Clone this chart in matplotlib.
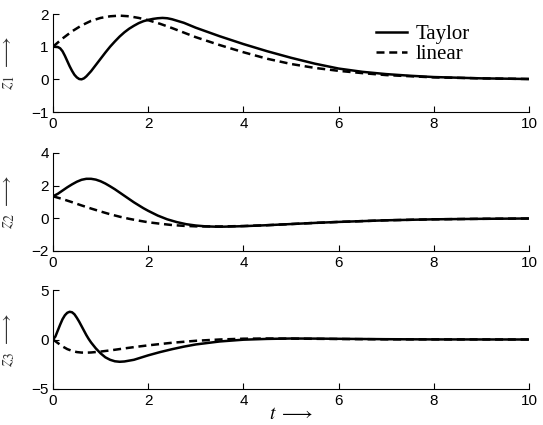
import matplotlib
matplotlib.use("Agg")
import matplotlib.pyplot as plt

# time samples and values
t1_taylor = [0, 0.1, 0.15, 0.2, 0.25, 0.3, 0.35, 0.4, 0.45, 0.5, 0.55, 0.6, 0.65, 0.7, 0.8,
             0.9, 1.0, 1.1, 1.2, 1.3, 1.4, 1.5, 1.6, 1.7, 1.8, 1.9, 2.0, 2.1, 2.2, 2.3, 2.4,
             2.5, 2.75, 3.0, 3.5, 4.0, 4.5, 5.0, 5.5, 6.0, 6.5, 7.0, 7.5, 8.0, 8.5, 9.0, 9.5, 10.0]
z1_taylor = [1.0, 0.99, 0.95, 0.86, 0.72, 0.56, 0.4, 0.26, 0.14, 0.06, 0.01, 0.0, 0.03, 0.09,
             0.25, 0.44, 0.63, 0.82, 1.0, 1.16, 1.31, 1.44, 1.55, 1.64, 1.72, 1.78, 1.82, 1.85,
             1.87, 1.88, 1.87, 1.84, 1.73, 1.58, 1.32, 1.08, 0.86, 0.66, 0.48, 0.33, 0.23,
             0.16, 0.11, 0.07, 0.05, 0.03, 0.02, 0.01]
t1_linear = [0, 0.2, 0.4, 0.6, 0.8, 1.0, 1.2, 1.4, 1.6, 1.8, 2.0, 2.25, 2.5, 2.75, 3.0, 3.5,
             4.0, 4.5, 5.0, 5.5, 6.0, 6.5, 7.0, 8.0, 9.0, 10.0]
z1_linear = [1.0, 1.25, 1.47, 1.65, 1.79, 1.88, 1.93, 1.95, 1.93, 1.88, 1.81, 1.7, 1.57, 1.43,
             1.29, 1.05, 0.83, 0.63, 0.47, 0.35, 0.26, 0.19, 0.13, 0.06, 0.03, 0.01]

t2_taylor = [0, 0.1, 0.2, 0.3, 0.4, 0.5, 0.6, 0.7, 0.8, 0.9, 1.0, 1.1, 1.2, 1.3, 1.4, 1.5,
             1.6, 1.7, 1.8, 1.9, 2.0, 2.2, 2.4, 2.6, 2.8, 3.0, 3.2, 3.4, 3.6, 4.0, 4.5, 5.0,
             5.5, 6.0, 7.0, 8.0, 9.0, 10.0]
z2_taylor = [1.35, 1.5, 1.7, 1.9, 2.08, 2.24, 2.36, 2.42, 2.42, 2.37, 2.27, 2.13, 1.96, 1.78,
             1.58, 1.38, 1.18, 0.98, 0.8, 0.62, 0.46, 0.17, -0.06, -0.23, -0.36, -0.44, -0.49,
             -0.51, -0.51, -0.48, -0.42, -0.35, -0.28, -0.22, -0.12, -0.06, -0.03, -0.01]
t2_linear = [0, 0.2, 0.4, 0.6, 0.8, 1.0, 1.2, 1.4, 1.6, 1.8, 2.0, 2.25, 2.5, 2.75, 3.0, 3.5,
             4.0, 4.5, 5.0, 5.5, 6.0, 7.0, 8.0, 9.0, 10.0]
z2_linear = [1.35, 1.18, 0.99, 0.79, 0.6, 0.42, 0.25, 0.1, -0.03, -0.14, -0.24, -0.33, -0.41,
             -0.46, -0.49, -0.5, -0.47, -0.42, -0.35, -0.28, -0.22, -0.12, -0.06, -0.03, -0.01]

t3_taylor = [0, 0.05, 0.1, 0.15, 0.2, 0.25, 0.3, 0.35, 0.4, 0.45, 0.5, 0.55, 0.6, 0.65, 0.7,
             0.75, 0.8, 0.9, 1.0, 1.1, 1.2, 1.3, 1.4, 1.5, 1.7, 2.0, 2.25, 2.5, 2.75, 3.0, 3.5,
             4.0, 4.5, 5.0, 5.5, 6.0, 7.0, 8.0, 10.0]
z3_taylor = [0.0, 0.3, 0.9, 1.5, 2.05, 2.45, 2.7, 2.8, 2.75, 2.55, 2.2, 1.8, 1.35, 0.9, 0.45,
             0.05, -0.3, -0.9, -1.4, -1.8, -2.05, -2.2, -2.25, -2.22, -2.05, -1.6, -1.27, -0.98,
             -0.72, -0.5, -0.2, -0.02, 0.06, 0.1, 0.09, 0.07, 0.03, 0.01, 0.0]
t3_linear = [0, 0.1, 0.2, 0.3, 0.4, 0.5, 0.6, 0.7, 0.8, 1.0, 1.25, 1.5, 1.75, 2.0, 2.5, 3.0,
             3.5, 4.0, 4.5, 5.0, 6.0, 7.0, 8.0, 10.0]
z3_linear = [0.0, -0.35, -0.7, -0.97, -1.15, -1.27, -1.32, -1.33, -1.31, -1.22, -1.07, -0.9,
             -0.74, -0.59, -0.33, -0.13, 0.0, 0.08, 0.1, 0.09, 0.05, 0.02, 0.01, 0.0]

series = [
    (t1_taylor, z1_taylor, t1_linear, z1_linear, (-1, 2), [-1, 0, 1, 2], r"$z_1\ \longrightarrow$"),
    (t2_taylor, z2_taylor, t2_linear, z2_linear, (-2, 4), [-2, 0, 2, 4], r"$z_2\ \longrightarrow$"),
    (t3_taylor, z3_taylor, t3_linear, z3_linear, (-5, 5), [-5, 0, 5], r"$z_3\ \longrightarrow$"),
]
x_ticks = [0, 2, 4, 6, 8, 10]

plt.rcParams["font.family"] = "Liberation Sans"
plt.rcParams["mathtext.fontset"] = "stix"

fig = plt.figure(figsize=(5.43, 4.25), dpi=100)
boxes = [(53, 14, 112), (53, 153, 251), (53, 290, 389)]
W, H = 543.0, 425.0

for (ta, za, tl, zl, ylim, yt, lab), (lx, top, bot) in zip(series, boxes):
    ax = fig.add_axes([lx / W, 1 - bot / H, 476 / W, (bot - top) / H])
    h1, = ax.plot(ta, za, color="black", lw=1.8, label="Taylor")
    h2, = ax.plot(tl, zl, color="black", lw=1.8, ls=(0, (3.2, 1.9)), label="linear")
    ax.set_xlim(0, 10)
    ax.set_ylim(*ylim)
    ax.set_xticks(x_ticks)
    ax.set_yticks(yt)
    ax.set_yticklabels([str(v).replace("-", "\u2212") for v in yt])
    ax.spines["top"].set_visible(False)
    ax.spines["right"].set_visible(False)
    ax.tick_params(direction="in", length=4, width=0.8, labelsize=11)
    ax.tick_params(axis="x", pad=3.5)
    ax.tick_params(axis="y", pad=3)
    ax.set_ylabel(lab, fontsize=14, color="#333333")
    ax.yaxis.set_label_coords(-0.075, 0.5)
    if top == 14:
        ax.legend(handles=[h1, h2], loc="upper right", bbox_to_anchor=(0.915, 1.08),
                  frameon=False, prop={"family": "Liberation Serif", "size": 15},
                  handlelength=1.5, handletextpad=0.4, labelspacing=0.0)
    if top == 290:
        ax.set_xlabel(r"$t\ \longrightarrow$", fontsize=14, labelpad=-1)

fig.savefig("out.png", dpi=100)
